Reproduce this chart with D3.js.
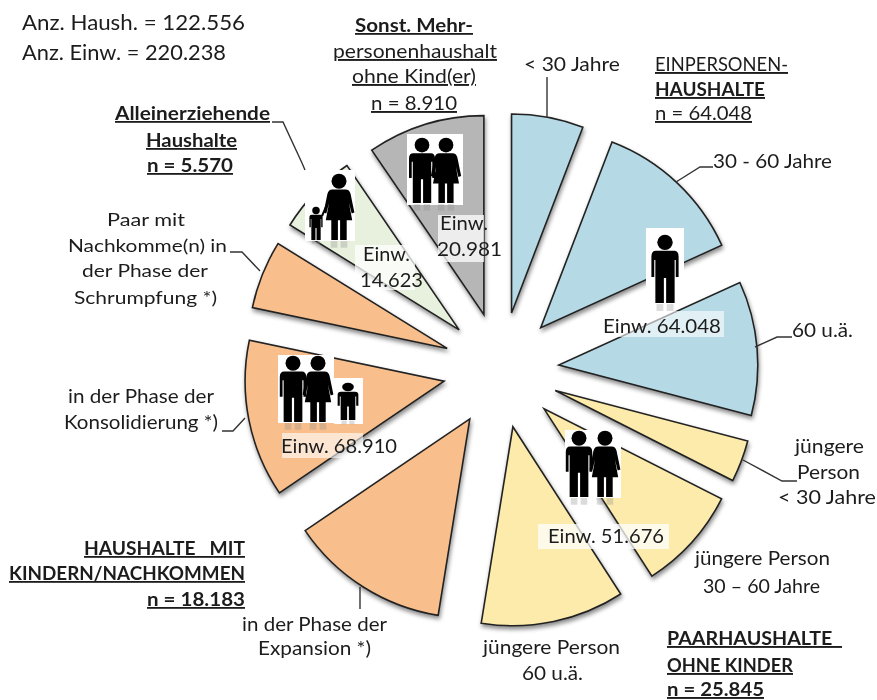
<!DOCTYPE html>
<html>
<head>
<meta charset="utf-8">
<script src="https://cdn.jsdelivr.net/npm/d3@7"></script>
<style>
  html, body { margin: 0; padding: 0; background: #fff; }
  #graphic svg { display: block; filter: blur(0.4px); }
  text { font-family: Lato, "Open Sans", sans-serif; fill: #1c1c1c; }
</style>
</head>
<body>
<div id="graphic"></div>
<script>
var categories = ["Sonst. Mehrpersonen", "< 30 Jahre", "30 - 60 Jahre", "60 u.ä.",
  "jüngere Person < 30", "jüngere Person 30 - 60", "jüngere Person 60 u.ä.",
  "Expansion", "Konsolidierung", "Schrumpfung", "Alleinerziehende"];
var einwohner = [20981, 12847, 27224, 23977, 7464, 18536, 25676, 28570, 28142, 12198, 14623];
var sliceGroup = ["sonst", "ein", "ein", "ein", "paar", "paar", "paar", "kind", "kind", "kind", "allein"];

var groupNames = ["sonst", "ein", "paar", "kind", "allein"];
var groupColors = ["#b6b6b6", "#b5d9e5", "#fcebaa", "#f8bf8c", "#e8f0de"];

// label lines: text, x, baseline y, width, font size, bold, underlined
var labels = [
  ["Anz. Haush.  = 122.556", 22, 30, 223, 21, 0, 0],
  ["Anz. Einw. = 220.238", 22, 60, 204, 21, 0, 0],
  ["Sonst. Mehr-", 355, 32, 118, 18, 1, 1],
  ["personenhaushalt", 333, 58, 164, 19, 0, 1],
  ["ohne Kind(er)", 352, 83, 124, 19, 0, 1],
  ["n = 8.910", 371, 110, 86, 19, 0, 1],
  ["< 30 Jahre", 524, 71, 96, 19, 0, 0],
  ["EINPERSONEN-", 655, 71, 133, 19, 0, 1],
  ["HAUSHALTE", 655, 96, 110, 19, 1, 1],
  ["n = 64.048", 655, 120, 97, 19, 0, 1],
  ["30 - 60 Jahre", 713, 168, 119, 19, 0, 0],
  ["60 u.ä.", 792, 337, 61, 19, 0, 0],
  ["jüngere", 795, 453, 69, 19, 0, 0],
  ["Person", 797, 479, 63, 19, 0, 0],
  ["< 30 Jahre", 778, 504, 98, 19, 0, 0],
  ["jüngere Person", 695, 565, 135, 19, 0, 0],
  ["30 – 60 Jahre", 703, 593, 117, 19, 0, 0],
  ["jüngere Person", 483, 654, 137, 19, 0, 0],
  ["60 u.ä.", 522, 680, 61, 19, 0, 0],
  ["PAARHAUSHALTE\u00a0\u00a0", 667, 645, 175, 19, 1, 1],
  ["OHNE KINDER", 667, 672, 126, 19, 1, 1],
  ["n = 25.845", 667, 696, 97, 19, 1, 1],
  ["HAUSHALTE\u00a0\u00a0\u00a0MIT", 84, 555, 161, 18, 1, 1],
  ["KINDERN/NACHKOMMEN", 9, 580, 236, 18, 1, 1],
  ["n = 18.183", 147, 606, 98, 18, 1, 1],
  ["in der Phase der", 242, 631, 145, 19, 0, 0],
  ["Expansion *)", 258, 655, 113, 19, 0, 0],
  ["in der Phase der", 68, 403, 146, 19, 0, 0],
  ["Konsolidierung *)", 64, 429, 154, 19, 0, 0],
  ["Alleinerziehende", 115, 120, 155, 18, 1, 1],
  ["Haushalte", 146, 147, 91, 18, 1, 1],
  ["n = 5.570", 147, 172, 86, 18, 1, 1],
  ["Paar mit", 107, 226, 78, 18, 0, 0],
  ["Nachkomme(n) in", 68, 252, 159, 18, 0, 0],
  ["der Phase der", 82, 277, 126, 18, 0, 0],
  ["Schrumpfung *)", 74, 304, 143, 18, 0, 0]
];

// "Einw." labels in the slices, with their pale backing box
var einwBoxes = [
  [438, 215, 46, 47, 0.75], [355, 245, 60, 45, 0.75], [603, 311, 121, 26, 0.6],
  [538, 524, 131, 25, 0.75], [282, 433, 81, 25, 0.6]
];
var einwLabels = [
  ["Einw.", 440, 230, 48], ["20.981", 437, 256, 65],
  ["Einw.", 363, 261, 47], ["14.623", 360, 287, 63],
  ["Einw. 64.048", 603, 333, 118],
  ["Einw. 51.676", 548, 543, 116],
  ["Einw. 68.910", 281, 453, 116]
];

var leaders = [
  [[547, 77], [547, 118]],
  [[713, 167], [700, 167], [676, 182]],
  [[792, 337], [777, 337], [755, 347]],
  [[797, 481], [782, 481], [743, 460]],
  [[222, 431], [233, 431], [245, 418]],
  [[360, 587], [360, 609]],
  [[230, 252], [242, 252], [260, 271]],
  [[272, 122], [283, 122], [302, 163], [305, 170]]
];

// white picture boxes and the figures in them: type, centre x, top y, feet y
var iconBoxes = [
  [407, 134, 56, 71], [305, 170, 50, 71], [646, 228, 38, 76],
  [565, 430, 56, 68], [278, 355, 56, 68], [334, 378, 29, 46]
];
var figures = [
  ["man", 422, 138, 203], ["woman", 446, 138, 203],
  ["woman", 339, 174, 240], ["boy", 316, 207, 240],
  ["man", 665, 235, 303],
  ["man", 579, 431, 497], ["woman", 605, 431, 497],
  ["man", 293, 356, 422], ["woman", 318, 356, 422], ["child", 348, 383, 420]
];

var width = 877, height = 700;
var pieCenter = [501, 370], explode = 58, radius = 199;

var svg = d3.select("#graphic").append("svg")
  .attr("width", width)
  .attr("height", height);

var defs = svg.append("defs");
var shadow = defs.append("filter").attr("id", "shadow")
  .attr("x", "-20%").attr("y", "-20%").attr("width", "140%").attr("height", "140%");
shadow.append("feDropShadow")
  .attr("dx", 1).attr("dy", 3).attr("stdDeviation", 2)
  .attr("flood-color", "#000").attr("flood-opacity", 0.45);

var color = d3.scaleOrdinal().domain(groupNames).range(groupColors);

var pie = d3.pie().sort(null)
  .startAngle(-34.3 * Math.PI / 180)
  .endAngle((360 - 34.3) * Math.PI / 180);
var arc = d3.arc().innerRadius(0).outerRadius(radius);

// the pie, each slice pushed out along its bisector
svg.append("g")
  .attr("transform", "translate(" + pieCenter[0] + "," + pieCenter[1] + ")")
  .selectAll(".slice")
  .data(pie(einwohner))
  .enter().append("path")
  .attr("class", "slice")
  .attr("d", arc)
  .attr("transform", function(d) {
    var mid = (d.startAngle + d.endAngle) / 2;
    return "translate(" + (Math.sin(mid) * explode) + "," + (-Math.cos(mid) * explode) + ")";
  })
  .attr("fill", function(d, i) { return color(sliceGroup[i]); })
  .attr("stroke", "#222")
  .attr("stroke-width", 1.6)
  .attr("stroke-linejoin", "miter")
  .attr("filter", "url(#shadow)")
  .append("title").text(function(d, i) { return categories[i]; });

// leader lines
var line = d3.line();
svg.selectAll(".leader")
  .data(leaders)
  .enter().append("path")
  .attr("class", "leader")
  .attr("d", line)
  .attr("fill", "none")
  .attr("stroke", "#333")
  .attr("stroke-width", 1.4);

// pictograms
svg.selectAll(".iconbox")
  .data(iconBoxes)
  .enter().append("rect")
  .attr("class", "iconbox")
  .attr("x", function(d) { return d[0]; })
  .attr("y", function(d) { return d[1]; })
  .attr("width", function(d) { return d[2]; })
  .attr("height", function(d) { return d[3]; })
  .attr("fill", "#fff");

var manBody = "M-8,14 H8 Q12,14 12,19 V37 H9.5 V22 H8.5 V60 H1 V38 H-1 V60 H-8.5 V22 H-9.5 V37 H-12 V19 Q-12,14 -8,14Z";
var bodies = {
  man: manBody,
  boy: manBody,
  child: manBody,
  woman: "M-6,14 H6 Q9.5,14 10.5,18 L14,35 L11.5,36 L9,26 L12,42 H7 V60 H1 V42 H-1 V60 H-7 V42 H-12 L-9,26 L-11.5,36 L-14,35 L-10.5,18 Q-9.5,14 -6,14Z"
};

var figure = svg.selectAll(".figure")
  .data(figures)
  .enter().append("g")
  .attr("class", "figure")
  .attr("transform", function(d) {
    var k = (d[3] - d[2]) / 60;
    return "translate(" + d[1] + "," + d[2] + ") scale(" + (d[0] == "child" ? k * 1.4 : k) + "," + k + ")";
  });
figure.append("circle")
  .attr("cy", 6.5).attr("r", 6.8).attr("fill", "#000");
figure.append("path")
  .attr("d", function(d) { return bodies[d[0]]; })
  .attr("fill", "#000");
// faint mirror of the legs under the feet
figure.selectAll(".mirror")
  .data([-7.5, 1.5])
  .enter().append("rect")
  .attr("class", "mirror")
  .attr("x", function(d) { return d; })
  .attr("y", 61).attr("width", 6).attr("height", 6)
  .attr("fill", "#888").attr("opacity", 0.3);

// the arm between mother and child
svg.append("path")
  .attr("d", line([[329, 200], [322, 216]]))
  .attr("fill", "none")
  .attr("stroke", "#000")
  .attr("stroke-width", 2);

// pale boxes behind the inhabitant labels
svg.selectAll(".einwbox")
  .data(einwBoxes)
  .enter().append("rect")
  .attr("class", "einwbox")
  .attr("x", function(d) { return d[0]; })
  .attr("y", function(d) { return d[1]; })
  .attr("width", function(d) { return d[2]; })
  .attr("height", function(d) { return d[3]; })
  .attr("fill", "#fff")
  .attr("opacity", function(d) { return d[4]; });

svg.selectAll(".einw")
  .data(einwLabels)
  .enter().append("text")
  .attr("class", "einw")
  .attr("x", function(d) { return d[1]; })
  .attr("y", function(d) { return d[2]; })
  .attr("textLength", function(d) { return d[3]; })
  .attr("lengthAdjust", "spacingAndGlyphs")
  .style("font-size", "20px")
  .text(function(d) { return d[0]; });

// all the other text
svg.selectAll(".label")
  .data(labels)
  .enter().append("text")
  .attr("class", "label")
  .attr("x", function(d) { return d[1]; })
  .attr("y", function(d) { return d[2]; })
  .attr("textLength", function(d) { return d[3]; })
  .attr("lengthAdjust", "spacingAndGlyphs")
  .style("font-size", function(d) { return d[4] + "px"; })
  .style("font-weight", function(d) { return d[5] ? "bold" : "normal"; })
  .style("text-decoration", function(d) { return d[6] ? "underline" : "none"; })
  .text(function(d) { return d[0]; });
</script>
</body>
</html>
